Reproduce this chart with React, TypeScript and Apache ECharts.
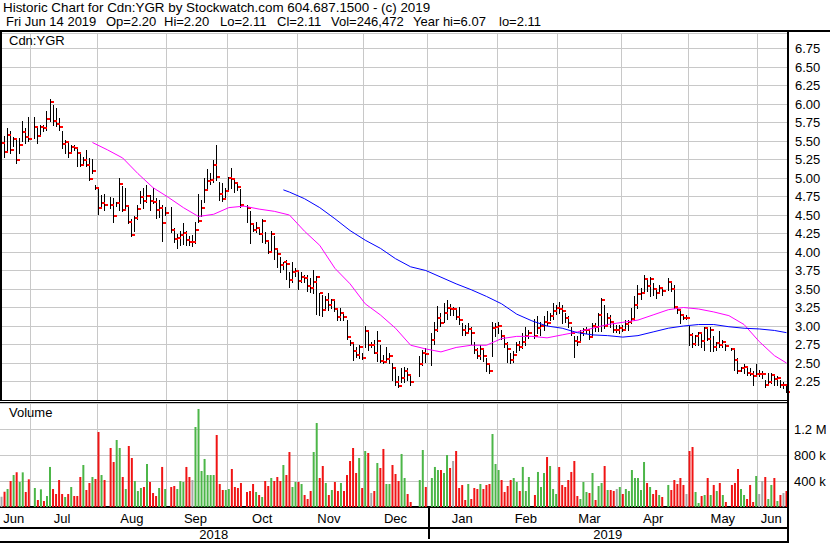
import React, { useEffect, useRef } from "react";
import * as echarts from "echarts";

const FONT_FAMILY = '"Liberation Sans", Arial, sans-serif';
const FONT = '13px "Liberation Sans", Arial, sans-serif';
const TITLE_FONT = '13.4px "Liberation Sans", Arial, sans-serif';

const TITLE_LINE = "Historic Chart for Cdn:YGR by Stockwatch.com 604.687.1500 - (c) 2019";
const INFO_PARTS = ["Fri Jun 14 2019", "Op=2.20", "Hi=2.20", "Lo=2.11", "Cl=2.11", "Vol=246,472", "Year hi=6.07", "lo=2.11"];
const INFO_X = [6, 106, 164, 220, 277, 331, 413, 499];
const SYMBOL = "Cdn:YGR";

const START_DATE = "2018-06-18";
const END_DATE = "2019-06-14";
const MONTH_NAMES = ["Jan", "Feb", "Mar", "Apr", "May", "Jun", "Jul", "Aug", "Sep", "Oct", "Nov", "Dec"];

const PRICE_TICK_LABELS = ["2.25", "2.50", "2.75", "3.00", "3.25", "3.50", "3.75", "4.00", "4.25", "4.50", "4.75", "5.00", "5.25", "5.50", "5.75", "6.00", "6.25", "6.50", "6.75"];
const VOL_TICK_VALUES = [400, 800, 1200];
const VOL_TICK_LABELS = ["400 k", "800 k", "1.2 M"];

// one slot per weekday; null = market holiday
const HIGH = [
  5.52, 5.57, 5.67, 5.64, 5.56, 5.53, 5.54, 5.77, 5.68, 5.83,
  null, 5.83, 5.70, 5.72, 5.72, 5.90, 6.07, 5.99, 5.95, 5.81,
  5.63, 5.51, 5.47, 5.45, 5.44, 5.40, 5.34, 5.29, 5.38, 5.27,
  5.26, 4.90, 4.87, 4.77, 4.78, null, 4.74, 4.73, 4.68, 5.00,
  4.89, 4.86, 4.62, 4.44, 4.48, 4.64, 4.82, 4.86, 4.90, 4.77,
  4.87, 4.73, 4.70, 4.63, 4.61, null, 4.61, 4.32, 4.25, 4.29,
  4.39, 4.28, 4.22, 4.23, 4.40, 4.79, 4.70, 5.00, 5.12, 5.07,
  5.24, 5.44, 4.95, 4.93, 4.86, 5.02, 5.13, 5.00, 4.94, 4.85,
  null, 4.63, 4.56, 4.36, 4.40, 4.34, 4.45, 4.27, 4.15, 4.29,
  4.22, 4.04, 3.93, 3.86, 3.89, 3.73, 3.87, 3.78, 3.73, 3.73,
  3.69, 3.69, 3.65, 3.76, 3.67, 3.45, 3.42, 3.40, 3.45, 3.37,
  3.36, 3.25, 3.25, 3.19, 3.08, 2.81, 2.79, 2.72, 2.75, 2.63,
  3.00, 2.93, 2.79, 2.81, 2.93, 2.75, 2.61, 2.72, 2.63, 2.50,
  2.42, 2.32, 2.43, 2.44, 2.43, 2.34, null, null, 2.60, 2.68,
  2.70, null, 2.90, 3.06, 3.27, 3.18, 3.31, 3.35, 3.30, 3.26,
  3.24, 3.26, 3.04, 3.01, 3.04, 2.98, 2.79, 2.70, 2.75, 2.68,
  2.57, 2.50, 3.06, 3.04, 3.06, 2.95, 2.86, 2.79, 2.63, 2.66,
  2.79, 2.80, 2.90, 2.99, 2.95, null, 3.09, 3.13, 3.05, 3.13,
  3.20, 3.18, 3.31, 3.29, 3.33, 3.29, 3.18, 3.13, 2.99, 2.86,
  2.86, 2.95, 2.97, 2.99, 2.95, 3.04, 3.04, 3.18, 3.38, 3.29,
  3.18, 3.15, 3.06, 3.02, 3.02, 3.02, 3.08, 3.08, 3.24, 3.40,
  3.56, 3.51, 3.69, 3.65, 3.66, 3.58, 3.51, 3.56, 3.51, null,
  3.65, 3.58, 3.56, 3.27, 3.22, 3.15, 3.15, 3.00, 2.90, 2.88,
  2.92, 2.90, 2.99, 2.97, 2.98, 2.86, 2.79, 2.93, 2.81, 2.76,
  null, 2.70, 2.68, 2.57, 2.45, 2.48, 2.45, 2.43, 2.39, 2.48,
  2.41, 2.39, 2.27, 2.36, 2.36, 2.34, 2.32, 2.27, 2.25, 2.20,
];

const LOW = [
  5.32, 5.29, 5.36, 5.34, 5.43, 5.20, 5.34, 5.50, 5.47, 5.50,
  null, 5.54, 5.47, 5.60, 5.63, 5.65, 5.77, 5.72, 5.70, 5.65,
  5.40, 5.34, 5.29, 5.34, 5.38, 5.16, 5.16, 5.20, 5.16, 4.98,
  5.07, 4.85, 4.51, 4.59, 4.57, null, 4.60, 4.41, 4.62, 4.57,
  4.55, 4.59, 4.39, 4.21, 4.28, 4.44, 4.66, 4.59, 4.68, 4.57,
  4.66, 4.46, 4.47, 4.15, 4.50, null, 4.27, 4.14, 4.05, 4.10,
  4.11, 4.09, 4.09, 4.08, 4.12, 4.40, 4.49, 4.68, 4.86, 4.92,
  4.95, 4.98, 4.70, 4.69, 4.74, 4.84, 4.87, 4.81, 4.84, 4.61,
  null, 4.41, 4.12, 4.29, 4.27, 4.25, 4.14, 4.12, 3.99, 4.02,
  3.91, 3.80, 3.73, 3.77, 3.64, 3.53, 3.60, 3.67, 3.50, 3.60,
  3.60, 3.47, 3.46, 3.45, 3.16, 3.15, 3.13, 3.24, 3.22, 3.24,
  3.20, 3.08, 3.08, 3.08, 2.83, 2.75, 2.54, 2.58, 2.57, 2.56,
  2.72, 2.68, 2.72, 2.63, 2.53, 2.52, 2.50, 2.53, 2.50, 2.27,
  2.20, 2.18, 2.25, 2.25, 2.27, 2.20, null, null, 2.32, 2.47,
  2.52, null, 2.47, 2.76, 2.93, 3.00, 3.06, 3.10, 3.15, 3.15,
  3.10, 3.03, 2.88, 2.88, 2.90, 2.76, 2.63, 2.57, 2.56, 2.53,
  2.39, 2.36, 2.59, 2.86, 2.90, 2.83, 2.72, 2.52, 2.50, 2.52,
  2.65, 2.68, 2.70, 2.75, 2.84, null, 2.84, 2.90, 2.88, 2.95,
  3.02, 3.08, 3.10, 3.16, 3.18, 3.04, 3.06, 2.98, 2.88, 2.58,
  2.75, 2.78, 2.88, 2.90, 2.83, 2.88, 2.93, 2.93, 2.93, 2.97,
  3.00, 2.98, 2.92, 2.92, 2.90, 2.93, 2.97, 2.95, 3.04, 3.08,
  3.24, 3.36, 3.47, 3.47, 3.40, 3.42, 3.38, 3.45, 3.42, null,
  3.49, 3.47, 3.24, 3.18, 3.04, 3.09, 3.09, 2.75, 2.72, 2.75,
  2.75, 2.72, 2.68, 2.81, 2.66, 2.66, 2.68, 2.72, 2.71, 2.68,
  null, 2.68, 2.41, 2.36, 2.39, 2.36, 2.34, 2.34, 2.20, 2.32,
  2.32, 2.30, 2.18, 2.20, 2.23, 2.20, 2.20, 2.18, 2.16, 2.11,
];

const CLOSE = [
  5.48, 5.35, 5.58, 5.38, 5.53, 5.25, 5.44, 5.62, 5.56, 5.53,
  null, 5.69, 5.57, 5.69, 5.67, 5.80, 6.03, 5.77, 5.73, 5.69,
  5.46, 5.49, 5.34, 5.42, 5.41, 5.34, 5.18, 5.25, 5.18, 4.99,
  5.10, 4.87, 4.59, 4.66, 4.64, null, 4.63, 4.49, 4.66, 4.92,
  4.57, 4.62, 4.41, 4.23, 4.46, 4.58, 4.74, 4.69, 4.76, 4.69,
  4.68, 4.57, 4.60, 4.39, 4.53, null, 4.30, 4.18, 4.19, 4.23,
  4.26, 4.16, 4.14, 4.14, 4.30, 4.42, 4.60, 4.84, 4.96, 4.97,
  5.17, 5.01, 4.78, 4.72, 4.82, 5.00, 4.99, 4.93, 4.88, 4.63,
  null, 4.60, 4.38, 4.30, 4.32, 4.25, 4.42, 4.15, 4.00, 4.25,
  4.04, 3.97, 3.83, 3.86, 3.84, 3.62, 3.73, 3.75, 3.61, 3.66,
  3.65, 3.54, 3.52, 3.59, 3.66, 3.44, 3.21, 3.35, 3.28, 3.35,
  3.23, 3.12, 3.18, 3.12, 2.85, 2.77, 2.66, 2.61, 2.71, 2.57,
  2.93, 2.75, 2.75, 2.64, 2.80, 2.53, 2.52, 2.56, 2.60, 2.43,
  2.25, 2.19, 2.30, 2.39, 2.34, 2.24, null, null, 2.48, 2.63,
  2.62, null, 2.81, 2.94, 3.11, 3.04, 3.18, 3.25, 3.23, 3.23,
  3.12, 3.08, 2.94, 2.90, 2.96, 2.90, 2.68, 2.59, 2.69, 2.59,
  2.48, 2.39, 2.97, 2.99, 3.00, 2.86, 2.76, 2.69, 2.54, 2.61,
  2.75, 2.72, 2.79, 2.86, 2.90, null, 2.86, 2.97, 3.00, 3.06,
  3.04, 3.13, 3.20, 3.24, 3.23, 3.20, 3.11, 3.04, 2.90, 2.80,
  2.78, 2.90, 2.94, 2.95, 2.85, 3.00, 2.99, 3.15, 3.35, 3.00,
  3.11, 3.06, 2.95, 2.95, 2.97, 2.95, 3.03, 3.05, 3.10, 3.28,
  3.43, 3.45, 3.63, 3.54, 3.64, 3.50, 3.45, 3.51, 3.47, null,
  3.59, 3.50, 3.26, 3.21, 3.15, 3.11, 3.11, 2.88, 2.76, 2.87,
  2.90, 2.80, 2.97, 2.83, 2.95, 2.72, 2.77, 2.75, 2.79, 2.73,
  null, 2.69, 2.54, 2.39, 2.43, 2.44, 2.36, 2.35, 2.32, 2.35,
  2.35, 2.35, 2.20, 2.24, 2.34, 2.29, 2.30, 2.20, 2.20, 2.11,
];

// volume in thousands of shares
const VOLUME_K = [
  159, 236, 277, 400, 492, 533, 385, 533, 231, 426,
  null, 292, 108, 272, 92, 169, 616, 277, 200, 415,
  200, 154, 200, 308, 169, 169, 462, 646, 262, 369,
  462, 431, 1154, 492, 415, null, 908, 692, 1031, 908,
  462, 277, 939, 754, 400, 246, 292, 308, 662, 385,
  215, 169, 292, 616, 277, null, 308, 323, 277, 400,
  385, 616, 462, 415, 1231, 1508, 554, 739, 492, 492,
  492, 1108, 354, 262, 262, 277, 585, 308, 292, 369,
  null, 231, 246, 354, 231, 185, 154, 400, 323, 446,
  400, 462, 400, 646, 492, 846, 308, 385, 385, 354,
  185, 123, 246, 846, 1292, 446, 631, 369, 185, 262,
  385, 246, 369, 246, 492, 708, 908, 523, 754, 292,
  862, 831, 215, 246, 677, 600, 893, 354, 354, 646,
  508, 400, 816, 446, 200, 77, null, null, 415, 877,
  308, null, 446, 616, 569, 569, 523, 800, 600, 708,
  862, 292, 338, 108, 354, 123, 292, 277, 354, 277,
  338, 354, 1123, 662, 569, 415, 231, 323, 415, 446,
  385, 246, 616, 246, 462, null, 185, 539, 308, 523,
  769, 631, 277, 200, 615, 338, 308, 415, 539, 708,
  169, 123, 385, 231, 215, 523, 108, 323, 369, 631,
  262, 262, 246, 277, 308, 200, 277, 246, 569, 446,
  446, 262, 692, 369, 308, 200, 262, 185, 154, null,
  339, 262, 415, 354, 446, 339, 200, 862, 923, 231,
  62, 169, 185, 446, 185, 339, 246, 369, 185, 77,
  null, 339, 369, 585, 277, 185, 123, 339, 77, 477,
  200, 400, 462, 123, 339, 446, 92, 185, 215, 246.472,
];

// moving averages at slot positions
const MA_SHORT_AT = [30, 35, 40, 45, 50, 55, 60, 65, 70, 75, 80, 85, 90, 95, 100, 105, 110, 115, 120, 125, 130, 135, 140, 145, 150, 155, 160, 165, 170, 175, 180, 185, 190, 195, 200, 205, 210, 215, 220, 225, 230, 235, 240, 245, 250, 255, 259];
const MA_SHORT = [5.48, 5.38, 5.27, 5.06, 4.87, 4.74, 4.60, 4.48, 4.51, 4.60, 4.62, 4.58, 4.55, 4.50, 4.28, 4.09, 3.78, 3.57, 3.30, 3.15, 2.97, 2.74, 2.69, 2.65, 2.71, 2.74, 2.74, 2.83, 2.86, 2.86, 2.84, 2.88, 2.92, 2.97, 3.02, 3.05, 3.08, 3.15, 3.22, 3.25, 3.23, 3.19, 3.14, 3.02, 2.79, 2.60, 2.50];
const MA_LONG_AT = [93, 95, 100, 105, 110, 115, 120, 125, 130, 135, 140, 145, 150, 155, 160, 165, 170, 175, 180, 185, 190, 195, 200, 205, 210, 215, 220, 225, 230, 235, 240, 245, 250, 255, 259];
const MA_LONG = [4.84, 4.81, 4.72, 4.60, 4.45, 4.29, 4.16, 4.05, 3.91, 3.80, 3.75, 3.66, 3.57, 3.49, 3.40, 3.30, 3.16, 3.07, 3.00, 2.97, 2.91, 2.88, 2.87, 2.85, 2.87, 2.92, 2.97, 3.00, 3.02, 3.02, 2.99, 2.97, 2.96, 2.94, 2.91];

function buildDates(): Date[] {
  const out: Date[] = [];
  const d = new Date(START_DATE + "T00:00:00Z");
  const end = new Date(END_DATE + "T00:00:00Z");
  while (d <= end) {
    const wd = d.getUTCDay();
    if (wd !== 0 && wd !== 6) out.push(new Date(d.getTime()));
    d.setUTCDate(d.getUTCDate() + 1);
  }
  return out;
}

export default function App() {
  const ref = useRef<HTMLDivElement | null>(null);

  useEffect(() => {
    if (!ref.current) return;
    const chart = echarts.init(ref.current, undefined, { renderer: "svg" });

    const dates = buildDates();
    const cats = dates.map((d) => d.toISOString().slice(0, 10));
    const n = cats.length;

    const monthStart = new Set<number>();
    const midMonth = new Map<number, string>();
    const midYear = new Map<number, string>();
    let segStart = 0;
    for (let i = 1; i <= n; i++) {
      if (i === n || dates[i].getUTCMonth() !== dates[i - 1].getUTCMonth()) {
        midMonth.set(Math.floor((segStart + i - 1) / 2), MONTH_NAMES[dates[segStart].getUTCMonth()]);
        if (i < n) monthStart.add(i);
        segStart = i;
      }
    }
    let yStart = 0;
    let yearBoundary = -1;
    for (let i = 1; i <= n; i++) {
      if (i === n || dates[i].getUTCFullYear() !== dates[i - 1].getUTCFullYear()) {
        midYear.set(Math.floor((yStart + i - 1) / 2), String(dates[yStart].getUTCFullYear()));
        if (i < n) yearBoundary = i;
        yStart = i;
      }
    }

    const ohlc: number[][] = [];
    CLOSE.forEach((c, i) => {
      if (c != null) ohlc.push([i, HIGH[i] as number, LOW[i] as number, c]);
    });

    let prev: number | null = null;
    const volData = VOLUME_K.map((v, i) => {
      const c = CLOSE[i];
      if (v == null || c == null) return null;
      let color = "#a8a8a8";
      if (prev != null) {
        if (c > prev) color = "#4cb648";
        else if (c < prev) color = "#f01414";
      }
      prev = c;
      return { value: v, itemStyle: { color } };
    });

    const grid = "#c8c8c8";

    const graphic: any[] = [
      { type: "text", x: 3, y: 1, z: 100, style: { text: TITLE_LINE, font: TITLE_FONT, fill: "#000", verticalAlign: "top" } },
      ...INFO_PARTS.map((t, k) => ({
        type: "text", x: INFO_X[k], y: 15, z: 100,
        style: { text: t, font: FONT, fill: "#000", verticalAlign: "top" },
      })),
      { type: "rect", z: 100, shape: { x: 0, y: 30, width: 830, height: 2 }, style: { fill: "#000" } },
      { type: "rect", z: 100, shape: { x: 0, y: 32, width: 2, height: 368 }, style: { fill: "#000" } },
      { type: "rect", z: 100, shape: { x: 787, y: 30, width: 2, height: 513 }, style: { fill: "#000" } },
      { type: "rect", z: 100, shape: { x: 0, y: 400, width: 788, height: 1 }, style: { fill: "#000" } },
      { type: "rect", z: 100, shape: { x: 0, y: 402, width: 788, height: 1 }, style: { fill: "#000" } },
      { type: "rect", z: 100, shape: { x: 0, y: 541, width: 788, height: 2 }, style: { fill: "#000" } },
      { type: "text", x: 9, y: 34, z: 100, style: { text: SYMBOL, font: FONT, fill: "#000", verticalAlign: "top" } },
      { type: "text", x: 9, y: 406, z: 100, style: { text: "Volume", font: FONT, fill: "#000", verticalAlign: "top" } },
    ];

    const barX = (api: any, i: number, v: number) => Math.floor(api.coord([i, v])[0]);

    const option: any = {
      animation: false,
      backgroundColor: "#fff",
      grid: [
        { left: 0, top: 33, width: 788, height: 367 },
        { left: 0, top: 403, width: 788, height: 104 },
      ],
      xAxis: [
        {
          type: "category", gridIndex: 0, data: cats, boundaryGap: true,
          axisLine: { show: false }, axisTick: { show: false }, axisLabel: { show: false },
          splitLine: { show: true, interval: (i: number) => monthStart.has(i), lineStyle: { color: grid, width: 1 } },
        },
        {
          type: "category", gridIndex: 1, data: cats, boundaryGap: true, position: "bottom", offset: 3,
          axisLine: { show: true, lineStyle: { color: "#000", width: 2 } },
          axisTick: { show: true, alignWithLabel: true, interval: (i: number) => i === yearBoundary, length: 32, lineStyle: { color: "#000", width: 2 } },
          axisLabel: {
            show: true, interval: (i: number) => midMonth.has(i), formatter: (_v: string, i: number) => midMonth.get(i) || "",
            margin: 2, fontSize: 13, fontFamily: FONT_FAMILY, color: "#000",
          },
          splitLine: { show: true, interval: (i: number) => monthStart.has(i), lineStyle: { color: grid, width: 1 } },
        },
        {
          type: "category", gridIndex: 1, data: cats, boundaryGap: true, position: "bottom", offset: 21,
          axisLine: { show: true, lineStyle: { color: "#000", width: 2 } },
          axisTick: { show: false },
          axisLabel: {
            show: true, interval: (i: number) => midYear.has(i), formatter: (_v: string, i: number) => midYear.get(i) || "",
            margin: 0, fontSize: 13, fontFamily: FONT_FAMILY, color: "#000",
          },
          splitLine: { show: false },
        },
      ],
      yAxis: [
        {
          type: "value", gridIndex: 0, position: "right", min: 2, max: 6.96, interval: 0.25,
          axisLine: { show: false }, axisTick: { show: false },
          axisLabel: {
            margin: 7, fontSize: 13, fontFamily: FONT_FAMILY, color: "#000",
            formatter: (v: number) => { const s = v.toFixed(2); return PRICE_TICK_LABELS.includes(s) ? s : ""; },
          },
          splitLine: { show: true, lineStyle: { color: grid, width: 1 } },
        },
        {
          type: "value", gridIndex: 1, position: "right", min: 0, max: 1600, interval: 400,
          axisLine: { show: false }, axisTick: { show: false },
          axisLabel: {
            margin: 6, fontSize: 13, fontFamily: FONT_FAMILY, color: "#000",
            formatter: (v: number) => { const k = VOL_TICK_VALUES.indexOf(v); return k >= 0 ? VOL_TICK_LABELS[k] : ""; },
          },
          splitLine: { show: true, lineStyle: { color: grid, width: 1 } },
        },
      ],
      series: [
        {
          type: "custom", xAxisIndex: 0, yAxisIndex: 0, data: ohlc, encode: { x: 0, y: [1, 2] }, z: 2,
          renderItem: (_p: any, api: any) => {
            const i = api.value(0);
            const x = barX(api, i, api.value(1));
            const yH = Math.round(api.coord([i, api.value(1)])[1]);
            const yL = Math.round(api.coord([i, api.value(2)])[1]);
            return { type: "line", shape: { x1: x + 0.5, y1: yH, x2: x + 0.5, y2: yL + 1 }, style: { stroke: "#000", lineWidth: 1 } };
          },
        },
        {
          type: "custom", xAxisIndex: 0, yAxisIndex: 0, data: ohlc, encode: { x: 0, y: 3 }, z: 3,
          renderItem: (_p: any, api: any) => {
            const i = api.value(0);
            const x = barX(api, i, api.value(3));
            const yC = Math.round(api.coord([i, api.value(3)])[1]);
            return { type: "rect", shape: { x: x + 1, y: yC - 1, width: 3, height: 2 }, style: { fill: "#ff0000" } };
          },
        },
        {
          type: "line", xAxisIndex: 0, yAxisIndex: 0, data: MA_SHORT_AT.map((i, k) => [i, MA_SHORT[k]]),
          symbol: "none", lineStyle: { color: "#ff00ff", width: 1 }, z: 5,
        },
        {
          type: "line", xAxisIndex: 0, yAxisIndex: 0, data: MA_LONG_AT.map((i, k) => [i, MA_LONG[k]]),
          symbol: "none", lineStyle: { color: "#0000ff", width: 1 }, z: 5,
        },
        {
          type: "bar", xAxisIndex: 1, yAxisIndex: 1, data: volData, barWidth: 2,
        },
      ],
      graphic,
    };

    chart.setOption(option);
    return () => chart.dispose();
  }, []);

  return (
    <div
      ref={ref}
      style={{ position: "absolute", left: 0, top: 0, width: 830, height: 543, background: "#fff" }}
    />
  );
}
